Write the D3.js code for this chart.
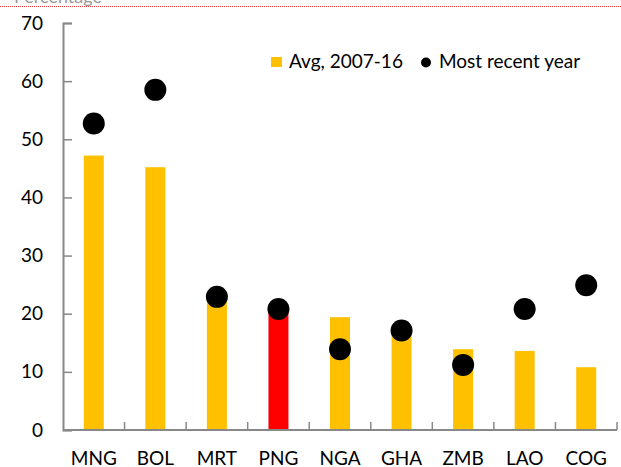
<!DOCTYPE html>
<html>
<head>
<meta charset="utf-8">
<script src="https://cdnjs.cloudflare.com/ajax/libs/d3/7.8.5/d3.min.js"></script>
<style>
  body { margin: 0; background: #fff; }
  svg { display: block; font-family: Lato, "Open Sans", sans-serif; }
</style>
</head>
<body>
<svg width="621" height="467"></svg>
<script>
const countries = ["MNG", "BOL", "MRT", "PNG", "NGA", "GHA", "ZMB", "LAO", "COG"];
const avg0716 = [47.2, 45.2, 23.6, 20.5, 19.4, 16.6, 13.9, 13.6, 10.8];
const recent = [52.7, 58.5, 22.9, 20.8, 13.9, 17.1, 11.2, 20.8, 24.9];
const yTicks = [0, 10, 20, 30, 40, 50, 60, 70];

const svg = d3.select("svg");
const plotL = 63, plotR = 617, plotT = 23, plotB = 430;

const x = d3.scaleBand().domain(countries).range([plotL, plotR]);
const y = d3.scaleLinear().domain([0, 70]).range([plotB, plotT]);
const grey = "#888";

// cut-off heading and dotted rule at the top
svg.append("text")
  .attr("x", 14).attr("y", 3)
  .attr("font-size", 18).attr("fill", "#999")
  .text("Percentage");
svg.append("line")
  .attr("x1", 0).attr("x2", 621)
  .attr("y1", 6.5).attr("y2", 6.5)
  .attr("stroke", "#e33").attr("stroke-width", 1)
  .attr("stroke-dasharray", "1,1");

// bars
const barW = 20;
svg.append("g")
  .selectAll("rect")
  .data(countries)
  .join("rect")
  .attr("x", d => x(d) + x.bandwidth() / 2 - barW / 2)
  .attr("width", barW)
  .attr("y", (d, i) => y(avg0716[i]))
  .attr("height", (d, i) => y(0) - y(avg0716[i]))
  .attr("fill", d => d === "PNG" ? "#ff0000" : "#ffc000");

// axes
const yAxis = svg.append("g")
  .attr("transform", `translate(${plotL},0)`)
  .call(d3.axisRight(y).tickValues(yTicks).tickSize(9).tickFormat(d3.format("d")));
yAxis.select(".domain").attr("stroke", grey).attr("stroke-width", 2);
yAxis.selectAll(".tick line").attr("stroke", grey).attr("stroke-width", 1.5);
yAxis.selectAll(".tick text")
  .attr("x", -20).attr("text-anchor", "end")
  .attr("font-size", 19).attr("fill", "#000").attr("font-family", "Lato, sans-serif");

const xAxis = svg.append("g")
  .attr("transform", `translate(0,${plotB})`);
xAxis.append("line")
  .attr("x1", plotL).attr("x2", plotR)
  .attr("stroke", grey).attr("stroke-width", 2);
xAxis.selectAll("line.tk")
  .data(countries)
  .join("line")
  .attr("class", "tk")
  .attr("x1", d => x(d) + x.bandwidth()).attr("x2", d => x(d) + x.bandwidth())
  .attr("y1", 0).attr("y2", -8)
  .attr("stroke", grey).attr("stroke-width", 1.5);
xAxis.selectAll("text")
  .data(countries)
  .join("text")
  .attr("x", d => x(d) + x.bandwidth() / 2)
  .attr("y", 35)
  .attr("text-anchor", "middle")
  .attr("font-size", 19)
  .text(d => d);

// dots
svg.append("g")
  .selectAll("circle")
  .data(countries)
  .join("circle")
  .attr("cx", d => x(d) + x.bandwidth() / 2)
  .attr("cy", (d, i) => y(recent[i]))
  .attr("r", 11)
  .attr("fill", "#000");

// legend
const lg = svg.append("g").attr("font-size", 19);
lg.append("rect").attr("x", 271).attr("y", 57).attr("width", 11).attr("height", 10).attr("fill", "#ffc000");
lg.append("text").attr("x", 289).attr("y", 68).text("Avg, 2007-16");
lg.append("circle").attr("cx", 426).attr("cy", 62.5).attr("r", 5).attr("fill", "#000");
lg.append("text").attr("x", 439).attr("y", 68).text("Most recent year");
</script>
</body>
</html>
